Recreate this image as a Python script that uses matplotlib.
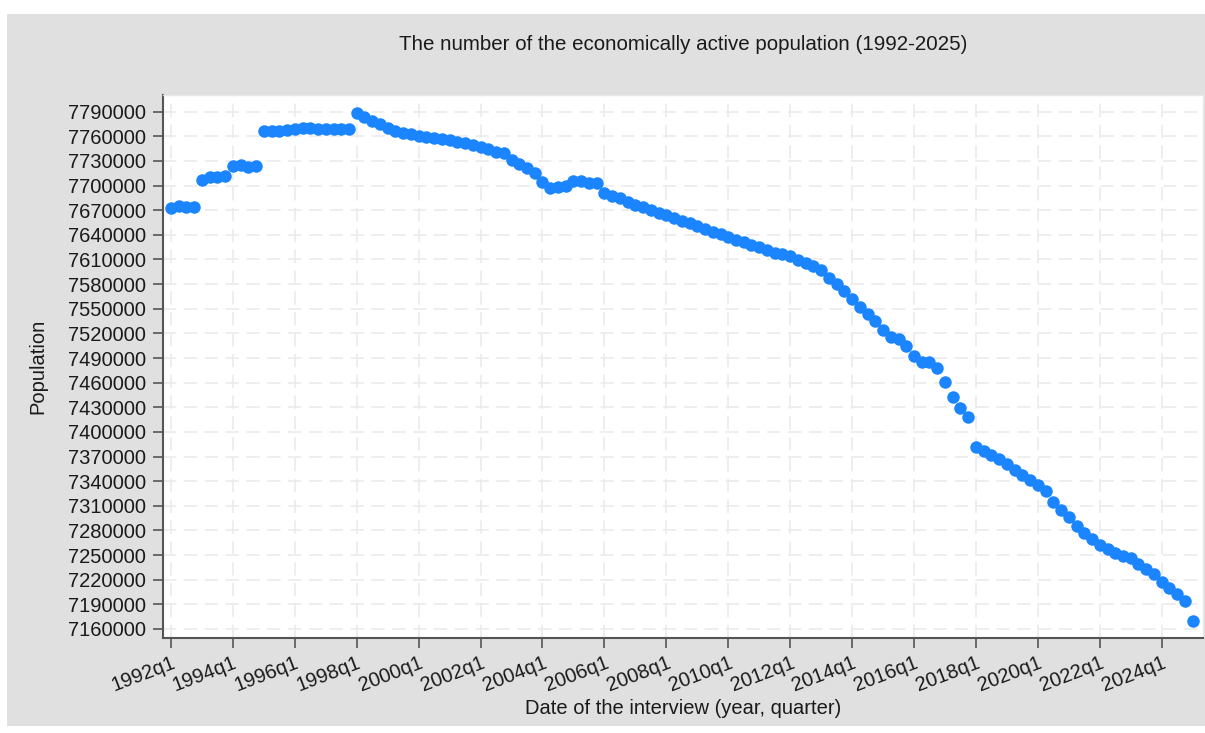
import matplotlib
matplotlib.use("Agg")
import matplotlib.pyplot as plt
from matplotlib.patches import Rectangle

plt.rcParams['font.family'] = ['Liberation Sans', 'DejaVu Sans']

# quarterly series, first quarter is 1992q1
start_year = 1992
population = [
    7673000, 7675500, 7673500, 7674500,   # 1992
    7707000, 7711000, 7711000, 7712000,   # 1993
    7724000, 7725000, 7723000, 7724000,   # 1994
    7766000, 7766500, 7766500, 7767500,   # 1995
    7769500, 7770000, 7769800, 7769500,   # 1996
    7769200, 7769000, 7769000, 7768800,   # 1997
    7788700, 7783800, 7779000, 7774600,   # 1998
    7770500, 7767000, 7764600, 7762400,   # 1999
    7760500, 7759200, 7758000, 7756800,   # 2000
    7755500, 7753600, 7751500, 7749000,   # 2001
    7746600, 7744200, 7741300, 7739300,   # 2002
    7731200, 7726000, 7721100, 7715700,   # 2003
    7704800, 7696800, 7698700, 7699900,   # 2004
    7705600, 7705600, 7703600, 7702800,   # 2005
    7690600, 7687300, 7684500, 7680400,   # 2006
    7676400, 7673600, 7670300, 7667000,   # 2007
    7664200, 7660900, 7657200, 7654100,   # 2008
    7650800, 7647100, 7643800, 7640700,   # 2009
    7637800, 7633700, 7630900, 7627600,   # 2010
    7624800, 7621600, 7618300, 7616700,   # 2011
    7614500, 7609400, 7605400, 7602100,   # 2012
    7597200, 7587800, 7580100, 7571600,   # 2013
    7561800, 7552500, 7543600, 7535100,   # 2014
    7524100, 7516000, 7513200, 7505000,   # 2015
    7492800, 7484800, 7485500, 7477500,   # 2016
    7461100, 7442900, 7429500, 7418500,   # 2017
    7381700, 7376400, 7371600, 7366400,   # 2018
    7360600, 7354200, 7348100, 7342000,   # 2019
    7335900, 7327800, 7314800, 7304700,   # 2020
    7295800, 7285200, 7277100, 7269100,   # 2021
    7262100, 7256900, 7252800, 7248800,   # 2022
    7246000, 7239000, 7232600, 7226500,   # 2023
    7217500, 7209500, 7202500, 7194400,   # 2024
    7169500,                              # 2025
]
y_ticks = list(range(7160000, 7790001, 30000))
tick_years = list(range(1992, 2025, 2))

quarter = list(range(len(population)))
x_ticks = [(yr - start_year) * 4 for yr in tick_years]
x_labels = ['%dq1' % yr for yr in tick_years]

W, H = 1205, 733
fig = plt.figure(figsize=(W / 100, H / 100), dpi=100)
fig.patch.set_facecolor('white')
fig.patches.append(Rectangle((7 / W, 1 - 726 / H), (W - 7) / W, (726 - 14) / H,
                             transform=fig.transFigure, facecolor='#e0e0e0',
                             edgecolor='none', zorder=-10))

ax = fig.add_axes([162.7 / W, (H - 638) / H, (1202.7 - 162.7) / W, (638 - 95) / H])
ax.set_facecolor('white')

ax.plot(quarter, population, 'o', color='#1a85ff', ms=9, mec='none', zorder=3)

ax.set_xlim(-1.07, 133.3)
ax.set_ylim(7149000, 7810300)
ax.set_yticks(y_ticks)
ax.set_yticklabels([str(v) for v in y_ticks])
ax.set_xticks(x_ticks)
ax.set_xticklabels(x_labels, rotation=21, ha='right', rotation_mode='anchor')

ax.grid(True, color='#ebebeb', linestyle=(0, (8, 4.5)), linewidth=1.2, zorder=0)
ax.set_axisbelow(True)

for s in ['left', 'bottom']:
    ax.spines[s].set_color('#555555')
    ax.spines[s].set_linewidth(1.5)
for s in ['top', 'right']:
    ax.spines[s].set_color('#e8e8e8')
    ax.spines[s].set_linewidth(1.0)

ax.tick_params(axis='both', length=7, width=1.2, color='#555555',
               labelsize=14.5, labelcolor='#1a1a1a')
ax.tick_params(axis='y', pad=5)
ax.tick_params(axis='x', pad=4)

fig.text(682.7 / W, 1 - 44 / H,
         'The number of the economically active population (1992-2025)',
         ha='center', va='center', fontsize=14.8, color='#1a1a1a')
fig.text(682.7 / W, 1 - 708 / H, 'Date of the interview (year, quarter)',
         ha='center', va='center', fontsize=14.5, color='#1a1a1a')
fig.text(38 / W, 1 - 366 / H, 'Population', rotation=90,
         ha='center', va='center', fontsize=14.5, color='#1a1a1a')

fig.savefig('out.png', dpi=100, facecolor=fig.get_facecolor())
